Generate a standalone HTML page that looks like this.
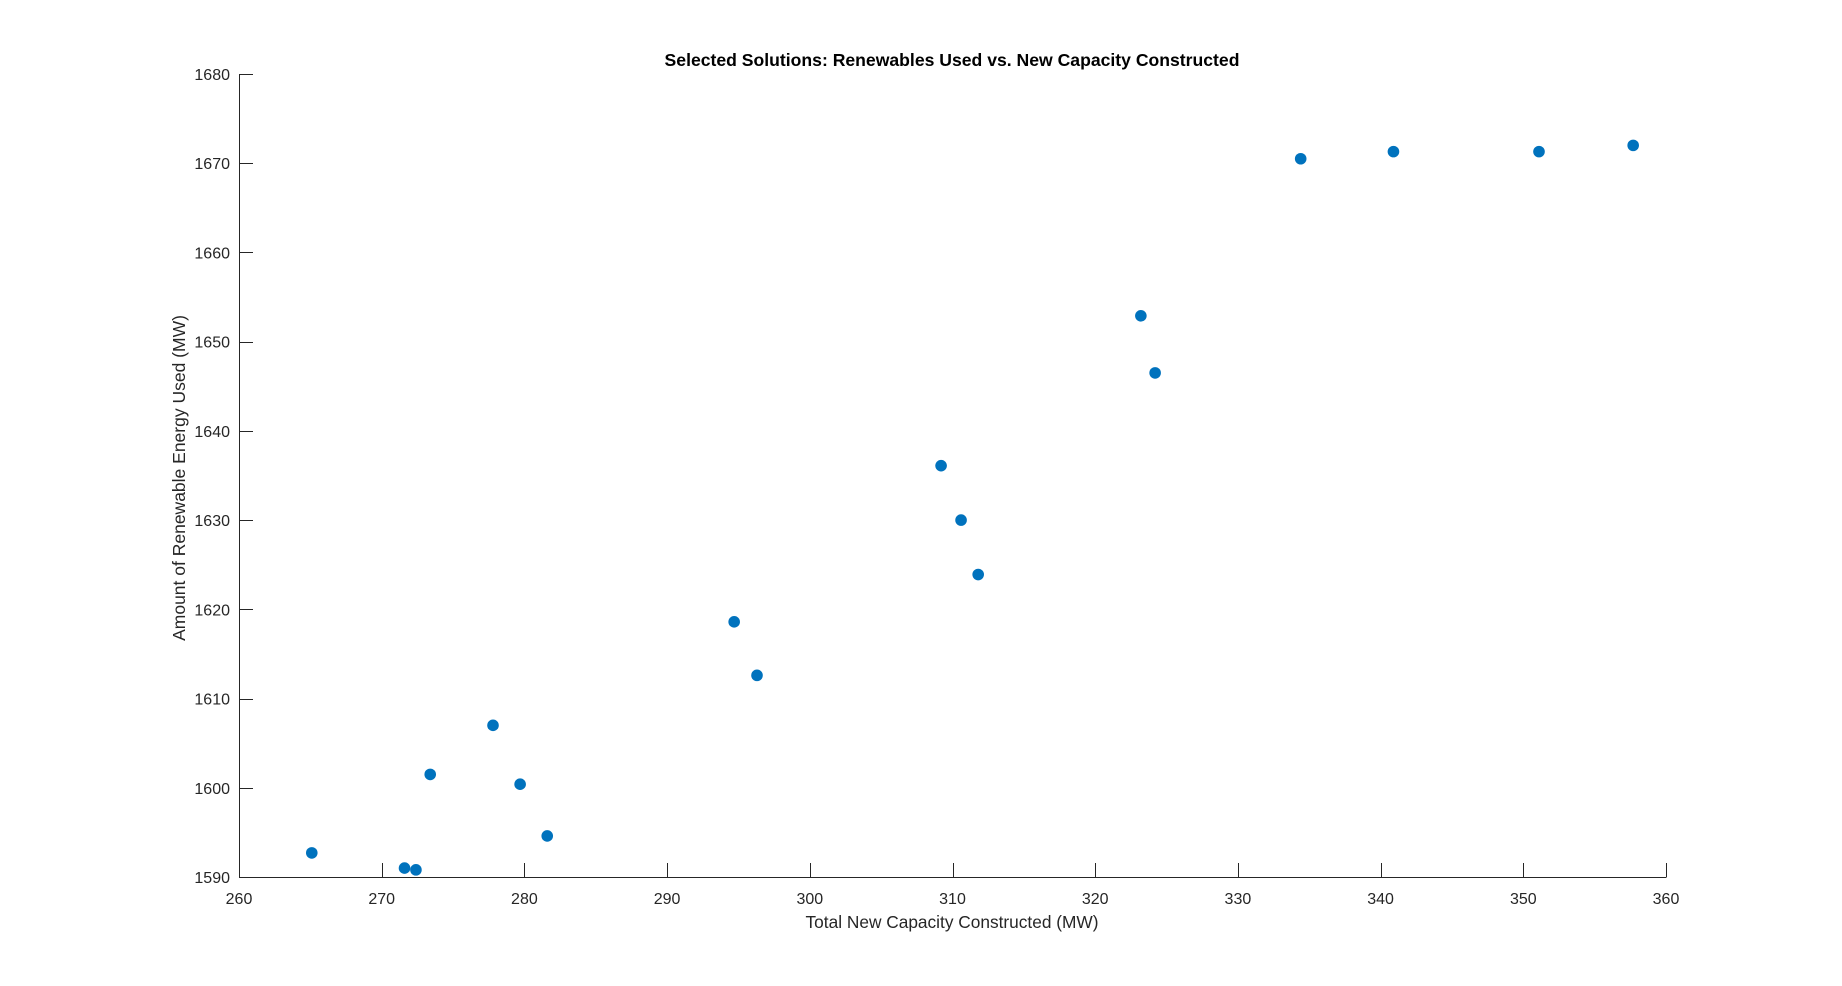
<!DOCTYPE html>
<html><head><meta charset="utf-8"><style>
html,body{margin:0;padding:0;background:#fff;}
svg{display:block;font-family:"Liberation Sans",Arial,sans-serif;}
</style></head><body>
<svg id="chart" width="1842" height="986" viewBox="0 0 1842 986">
<rect width="1842" height="986" fill="#fff"/>
<text x="952" y="66" text-anchor="middle" font-size="17.6" font-weight="bold" fill="#000">Selected Solutions: Renewables Used vs. New Capacity Constructed</text>
<g id="axes"></g>
<g id="points"></g>
<text x="952" y="928" text-anchor="middle" font-size="17.3" fill="#262626">Total New Capacity Constructed (MW)</text>
<text transform="translate(185,478) rotate(-90)" text-anchor="middle" font-size="17.5" fill="#262626">Amount of Renewable Energy Used (MW)</text>
</svg>
<script>
const xValues = [265.1,271.6,272.4,273.4,277.8,279.7,281.6,294.7,296.3,309.2,310.6,311.8,323.2,324.2,334.4,340.9,351.1,357.7];
const yValues = [1592.7,1591.0,1590.8,1601.5,1607.0,1600.4,1594.6,1618.6,1612.6,1636.1,1630.0,1623.9,1652.9,1646.5,1670.5,1671.3,1671.3,1672.0];
const xTicks = [260,270,280,290,300,310,320,330,340,350,360];
const yTicks = [1590,1600,1610,1620,1630,1640,1650,1660,1670,1680];

const L=239,R=1666,T=74,B=877;
const xMin=260,xMax=360,yMin=1590,yMax=1680;
function sx(v){return L+(v-xMin)/(xMax-xMin)*(R-L);}
function sy(v){return B-(v-yMin)/(yMax-yMin)*(B-T);}
const NS="http://www.w3.org/2000/svg";
const axes=document.getElementById('axes');
const pts=document.getElementById('points');
function mk(tag,attrs,parent){const e=document.createElementNS(NS,tag);for(const k in attrs)e.setAttribute(k,attrs[k]);parent.appendChild(e);return e;}

const xa=mk('line',{x1:L,y1:B+0.5,x2:R+0.5,y2:B+0.5,stroke:'#262626','stroke-width':1},axes);


const ya=mk('line',{x1:L+0.5,y1:T,x2:L+0.5,y2:B+0.5,stroke:'#262626','stroke-width':1},axes);



xTicks.forEach(t=>{
  const x=Math.round(sx(t))+0.5;
  const tk=mk('line',{x1:x,y1:B,x2:x,y2:B-14,stroke:'#262626','stroke-width':1},axes);
  
  
  const lb=mk('text',{x:sx(t),y:B+27,'text-anchor':'middle','font-size':16,fill:'#262626'},axes);
  lb.textContent=t;
  
  
});
yTicks.forEach(t=>{
  const y=Math.round(sy(t))+0.5;
  const tk=mk('line',{x1:L,y1:y,x2:L+14,y2:y,stroke:'#262626','stroke-width':1},axes);
  
  
  const lb=mk('text',{x:L-9,y:sy(t)+6,'text-anchor':'end','font-size':16,fill:'#262626'},axes);
  lb.textContent=t;
  
  
});
xValues.forEach((v,i)=>{
  const c=mk('circle',{cx:sx(v),cy:sy(yValues[i]),r:5.8,fill:'#0072BD'},pts);
  
  
});
</script>
</body></html>
